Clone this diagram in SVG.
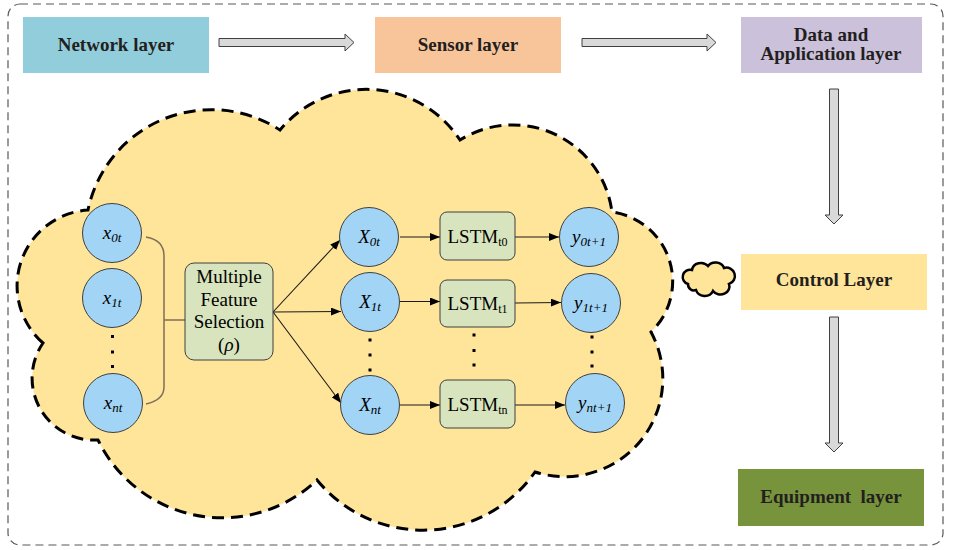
<svg xmlns="http://www.w3.org/2000/svg" width="959" height="550" viewBox="0 0 959 550">
<defs>
<marker id="ah" markerUnits="userSpaceOnUse" markerWidth="10" markerHeight="8" refX="10" refY="4" orient="auto">
<path d="M0,0 L10,4 L0,8 Z" fill="#000"/>
</marker>
</defs>
<style>
text{font-family:'Liberation Serif','Tinos','DejaVu Serif',serif}
.layer-t{font-weight:bold;font-size:19px;fill:#231F20;text-anchor:middle;white-space:pre}
.circ{fill:#A2D4F6;stroke:#3F3F3F;stroke-width:1}
.lstm{fill:#D7E4BD;stroke:#3F3F3F;stroke-width:1}
.lab{font-style:italic;font-size:19px;fill:#000;text-anchor:middle}
.sub{font-size:13px}
.reg{font-size:19px;fill:#000;text-anchor:middle}
.blk{fill:#D9D9D9;stroke:#404040;stroke-width:1}
.thin{stroke:#1a1a1a;stroke-width:1.1;fill:none;marker-end:url(#ah)}
.dot{fill:#000}
</style>
<rect x="8" y="4" width="935" height="541" rx="12" fill="none" stroke="#595959" stroke-width="1.2" stroke-dasharray="8 5"/>

<g id="cloud">
<path d="M43,343 A76,76 0 0 1 88,210 A126,126 0 0 1 280,130 A112,112 0 0 1 460,140 A100,100 0 0 1 612,212 A70,70 0 0 1 651,332 A98,98 0 0 1 535,472 A137,137 0 0 1 317,480 A138,138 0 0 1 98,440 A62,62 0 0 1 43,343 Z" fill="#FFE599" stroke="#000" stroke-width="3" stroke-dasharray="12 7"/>
</g>
<g id="small-cloud">
<path d="M688,284 A7,7 0 0 1 692,270 A9,8 0 0 1 708,266 A9,8 0 0 1 724,268 A8,8 0 0 1 729,284 A9,8 0 0 1 713,291 A9,8 0 0 1 696,290 A6,6 0 0 1 688,284 Z" fill="#FFE599" stroke="#000" stroke-width="2.5"/>
</g>

<g id="network-layer">
<rect x="23" y="17" width="186" height="56" fill="#92CDDC"/>
<text class="layer-t" x="116" y="51" font-family="Liberation Serif, serif">Network layer</text>
</g>
<g id="sensor-layer">
<rect x="375" y="17" width="186" height="56" fill="#F8C59B"/>
<text class="layer-t" x="468" y="51">Sensor layer</text>
</g>
<g id="data-application-layer">
<rect x="741" y="17" width="181" height="56" fill="#CCC1DA"/>
<text class="layer-t" x="831" y="41">Data and</text>
<text class="layer-t" x="831" y="60">Application layer</text>
</g>
<g id="control-layer">
<rect x="741" y="254" width="186" height="56" fill="#FFE599"/>
<text class="layer-t" x="834" y="286">Control Layer</text>
</g>
<g id="equipment-layer">
<rect x="738" y="469" width="186" height="57" fill="#77933C"/>
<text class="layer-t" x="831" y="503">Equipment  layer</text>
</g>

<g id="connectors">
<polygon class="blk" points="219,38.5 345,38.5 345,34 354,42.5 345,51 345,46.5 219,46.5"/>
<polygon class="blk" points="582,38.5 707,38.5 707,34 716,42.5 707,51 707,46.5 582,46.5"/>
<polygon class="blk" points="829.5,89 838.5,89 838.5,215 843,215 834,224 825,215 829.5,215"/>
<polygon class="blk" points="829.5,317 838.5,317 838.5,443 843,443 834,452 825,443 829.5,443"/>
<path d="M146,237 Q164,240 164,256 L164,387 Q164,400 146,404 M164,320 L185,320" fill="none" stroke="#7F6F5A" stroke-width="1.5"/>
<line class="thin" x1="273" y1="312" x2="340" y2="240"/>
<line class="thin" x1="273" y1="312" x2="341" y2="311.5"/>
<line class="thin" x1="273" y1="312" x2="341" y2="403"/>
<line class="thin" x1="400" y1="237" x2="440" y2="237"/>
<line class="thin" x1="400" y1="301.5" x2="440" y2="301.5"/>
<line class="thin" x1="400" y1="405" x2="440" y2="405"/>
<line class="thin" x1="515" y1="237" x2="559" y2="237"/>
<line class="thin" x1="515" y1="303" x2="561" y2="302.5"/>
<line class="thin" x1="515" y1="405" x2="565" y2="405"/>
</g>

<g id="x0t"><circle class="circ" cx="112" cy="233" r="29.5"/><text class="lab" x="112" y="239">x<tspan class="sub" dy="3">0t</tspan></text></g>
<g id="x1t"><circle class="circ" cx="112" cy="298" r="29.5"/><text class="lab" x="112" y="304">x<tspan class="sub" dy="3">1t</tspan></text></g>
<g id="x-dots"><rect class="dot" x="111" y="335" width="3" height="3"/><rect class="dot" x="111" y="350.5" width="3" height="3"/><rect class="dot" x="111" y="365" width="3" height="3"/></g>
<g id="xnt"><circle class="circ" cx="113" cy="403" r="29.5"/><text class="lab" x="113" y="409">x<tspan class="sub" dy="3">nt</tspan></text></g>

<g id="mfs">
<rect class="lstm" x="185" y="263" width="88" height="97" rx="9"/>
<text class="reg" x="229" y="283">Multiple</text>
<text class="reg" x="229" y="305.5">Feature</text>
<text class="reg" x="229" y="328">Selection</text>
<text class="reg" x="229" y="350.5">(<tspan font-style="italic">ρ</tspan>)</text>
</g>

<g id="X0t"><circle class="circ" cx="369" cy="237" r="29.5"/><text class="lab" x="369" y="243">X<tspan class="sub" dy="3">0t</tspan></text></g>
<g id="X1t"><circle class="circ" cx="370" cy="302" r="29.5"/><text class="lab" x="370" y="308">X<tspan class="sub" dy="3">1t</tspan></text></g>
<g id="X-dots"><rect class="dot" x="368.5" y="338.5" width="3" height="3"/><rect class="dot" x="368.5" y="353.5" width="3" height="3"/><rect class="dot" x="368.5" y="368.5" width="3" height="3"/></g>
<g id="Xnt"><circle class="circ" cx="370" cy="405" r="29.5"/><text class="lab" x="370" y="411">X<tspan class="sub" dy="3">nt</tspan></text></g>

<g id="lstm-t0"><rect class="lstm" x="440" y="212" width="75" height="48" rx="7"/><text class="reg" x="477.5" y="243">LSTM<tspan font-size="12" dy="3">t0</tspan></text></g>
<g id="lstm-t1"><rect class="lstm" x="440" y="280" width="75" height="47" rx="7"/><text class="reg" x="477.5" y="310">LSTM<tspan font-size="12" dy="3">t1</tspan></text></g>
<g id="lstm-dots"><rect class="dot" x="472.5" y="333.5" width="3" height="3"/><rect class="dot" x="472.5" y="349" width="3" height="3"/><rect class="dot" x="472.5" y="363.5" width="3" height="3"/></g>
<g id="lstm-tn"><rect class="lstm" x="440" y="380" width="75" height="48" rx="7"/><text class="reg" x="477.5" y="411">LSTM<tspan font-size="12" dy="3">tn</tspan></text></g>

<g id="y0t1"><circle class="circ" cx="589" cy="237" r="29.5"/><text class="lab" x="589" y="243">y<tspan class="sub" dy="3">0t+1</tspan></text></g>
<g id="y1t1"><circle class="circ" cx="591" cy="303" r="29.5"/><text class="lab" x="591" y="309">y<tspan class="sub" dy="3">1t+1</tspan></text></g>
<g id="y-dots"><rect class="dot" x="590.5" y="335.5" width="3" height="3"/><rect class="dot" x="590.5" y="350.5" width="3" height="3"/><rect class="dot" x="590.5" y="364.5" width="3" height="3"/></g>
<g id="ynt1"><circle class="circ" cx="595" cy="403" r="29.5"/><text class="lab" x="595" y="409">y<tspan class="sub" dy="3">nt+1</tspan></text></g>
</svg>
